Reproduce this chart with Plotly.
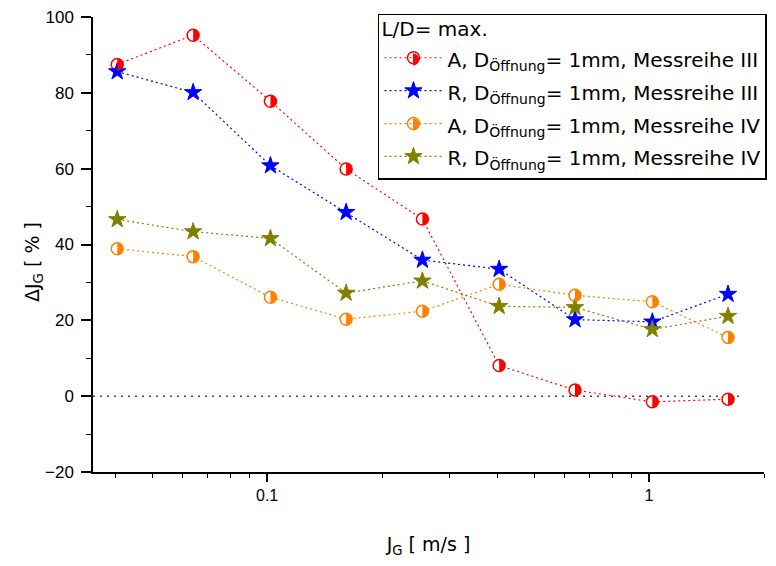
import plotly.graph_objects as go

# ---- data ----
jg = [0.0405, 0.064, 0.102, 0.161, 0.255, 0.405, 0.64, 1.02, 1.61]
a_iii = [87.5, 95.2, 77.8, 59.9, 46.7, 8.1, 1.6, -1.5, -0.8]
r_iii = [85.6, 80.1, 60.8, 48.5, 35.9, 33.5, 20.2, 19.6, 26.9]
a_iv = [38.9, 36.8, 26.1, 20.3, 22.4, 29.5, 26.6, 24.9, 15.5]
r_iv = [46.6, 43.4, 41.6, 27.2, 30.4, 23.7, 23.4, 17.6, 21.1]

names = [
    "A, D<sub>Öffnung</sub>= 1mm, Messreihe III",
    "R, D<sub>Öffnung</sub>= 1mm, Messreihe III",
    "A, D<sub>Öffnung</sub>= 1mm, Messreihe IV",
    "R, D<sub>Öffnung</sub>= 1mm, Messreihe IV",
]
colors = ["#FF0000", "#0000FF", "#FF8000", "#808000"]
series = [a_iii, r_iii, a_iv, r_iv]
kinds = ["half", "star", "half", "star"]
legend_title = "L/D= max."

x_major = [0.1, 1]
x_major_text = ["0.1", "1"]
x_minor = [0.04, 0.05, 0.06, 0.07, 0.08, 0.09, 0.2, 0.3, 0.4, 0.5, 0.6, 0.7, 0.8, 0.9, 2]
y_major = [-20, 0, 20, 40, 60, 80, 100]
y_minor = [-10, 10, 30, 50, 70, 90]

TICKFONT = "Liberation Sans, Arial, sans-serif"
WIDEFONT = "DejaVu Sans, Verdana, sans-serif"

fig = go.Figure()
half_path = "M0,-6 C3.31,-6 6,-3.31 6,0 C6,3.31 3.31,6 0,6 Z"
shapes = []
legend_half_pos = {0: 0.9066, 2: 0.7637}   # paper-y of the legend symbols

for i, (name, col, ys, kind) in enumerate(zip(names, colors, series, kinds)):
    line = dict(color=col, width=1.2, dash="2px,3px")
    if kind == "half":
        marker = dict(symbol="circle", size=12, color="white",
                      line=dict(color=col, width=1.5))
        leg_marker = dict(symbol="circle", size=12, color="rgba(0,0,0,0)",
                          line=dict(color=col, width=1.5))
    else:
        marker = dict(symbol="star", size=13, color=col,
                      line=dict(color=col, width=1))
        leg_marker = marker
    # data trace
    fig.add_trace(go.Scatter(
        x=jg, y=ys, mode="lines+markers", showlegend=False,
        name=name, line=line, marker=marker,
    ))
    # legend entry (symbol with see-through fill so the half fill shows)
    fig.add_trace(go.Scatter(
        x=[None], y=[None], mode="lines+markers", showlegend=True,
        name='<span style="font-size:20px">' + name + "</span>",
        line=line, marker=leg_marker, hoverinfo="skip",
    ))
    if kind == "half":
        for xv, yv in zip(jg, ys):
            shapes.append(dict(type="path", xref="x", yref="y",
                               xsizemode="pixel", ysizemode="pixel",
                               xanchor=xv, yanchor=yv, path=half_path,
                               fillcolor=col, line=dict(width=0)))
        shapes.append(dict(type="path", xref="paper", yref="paper",
                           xsizemode="pixel", ysizemode="pixel",
                           xanchor=0.4769, yanchor=legend_half_pos[i], path=half_path,
                           fillcolor=col, line=dict(width=0)))

# zero reference line
shapes.append(dict(type="line", xref="paper", yref="y", x0=0, x1=0.97, y0=0, y1=0,
                   line=dict(color="#444444", width=1.5, dash="2px,5px"), layer="below"))

fig.update_layout(
    width=768, height=558,
    margin=dict(l=85, r=12, t=9, b=94, autoexpand=False),
    paper_bgcolor="white", plot_bgcolor="white",
    font=dict(family=TICKFONT, size=17, color="black"),
    shapes=shapes,
    showlegend=True,
    legend=dict(
        x=0.4247, y=1.0066, xanchor="left", yanchor="top",
        bgcolor="rgba(0,0,0,0)", bordercolor="black", borderwidth=1.5,
        font=dict(family=WIDEFONT, size=23, color="black"),
        title=dict(text='<span style="font-size:20px">' + legend_title + "</span>",
                   font=dict(family=WIDEFONT, size=16)),
        itemwidth=58,
    ),
    annotations=[dict(
        text="ΔJ<sub>G</sub> [ % ]", textangle=-90, showarrow=False,
        xref="paper", yref="paper", x=-0.0894, y=0.4615,
        xanchor="center", yanchor="middle",
        font=dict(family=WIDEFONT, size=19, color="black"),
    )],
    xaxis=dict(
        type="log", range=[-1.456, 0.301],
        tickvals=x_major, ticktext=x_major_text,
        ticks="outside", ticklen=8, tickwidth=1.5, tickcolor="black",
        showline=True, linecolor="black", linewidth=1.5, mirror=False,
        showgrid=False, zeroline=False,
        tickfont=dict(size=16), ticklabeloverflow="allow",
        minor=dict(tickvals=x_minor, ticks="outside", ticklen=4, tickwidth=1.2,
                   tickcolor="black", showgrid=False),
        title=dict(text="J<sub>G</sub> [ m/s ]", font=dict(family=WIDEFONT, size=19), standoff=35),
    ),
    yaxis=dict(
        range=[-20, 100], tickvals=y_major,
        ticks="outside", ticklen=10, tickwidth=1.5, tickcolor="black",
        showline=True, linecolor="black", linewidth=1.5, mirror=False,
        showgrid=False, zeroline=False,
        tickfont=dict(size=17), ticklabelstandoff=4, ticklabeloverflow="allow",
        minor=dict(tickvals=y_minor, ticks="outside", ticklen=5, tickwidth=1.2,
                   tickcolor="black", showgrid=False),
    ),
)

fig.write_html("out.html")
